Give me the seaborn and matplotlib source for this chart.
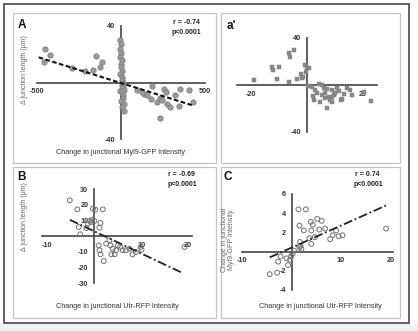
import matplotlib
matplotlib.use("Agg")
import matplotlib.pyplot as plt
import seaborn as sns
import numpy as np
import pandas as pd
from matplotlib.patches import Rectangle

sns.set_style("white")
plt.rcParams['font.family'] = ['Liberation Sans', 'DejaVu Sans']
plt.rcParams['axes.unicode_minus'] = False

# ---------------- data ----------------
# Panel A: change in junctional Myl9-GFP intensity vs delta junction length
A_x = [-451, -422, -461, -294, -216, -167, -147, -114, -127,
       -5, 2, -3, 0, -4, 3, -2, 1, 5, -6, 8, 4, 10, 12, 6, 9, 3, 15, -8, 7, 11, 14, 2, 18, 5, 20,
       98, 137, 186, 176, 216, 235, 255, 265, 245, 275, 294, 323, 343, 353, 402, 431, 235, 127, 157]
A_y = [23.7, 19.5, 14.7, 10.0, 8.3, 8.8, 18.8, 14.7, 10.7,
       30, 27, 24, 21, 18, 16, 13, 11, 8, 6, 4, 2, 0, -1, -2, -3, -4, -5, -6, -7, -9, -11, -13, -15, -17, -20,
       -5.5, -8.3, -2.4, -12.0, -13.8, -11.0, -4.3, -6.6, -12.6, -15.0, -17.0, -9.0, -16.9, -4.3, -5.5, -13.8, -25.0, -6.6, -9.0]
A_fit = {"slope": -0.0371, "intercept": -0.38, "x_range": [-490, 430]}
A_r, A_p = "r = -0.74", "p<0.0001"

# Panel a'
a2_x = [-19, -12.5, -12.3, -10.1, -10.7, -6.5, -6.5, -6.2, -4.5, -3.6, -2.0, -1.8, -1.5, -0.6, 0.0, 0.8, -0.2, 0.4,
        1.8, 3.6, 2.4, 4.2, 5.4, 6.0, 6.5, 5.4, 4.8, 7.1, 7.7, 8.3, 8.9, 9.5, 10.1, 8.9, 10.7, 13.1, 12.5, 14.3,
        15.5, 16.0, 20.2, 23.0, 6.5, 3.0, 11.5, 9.0, 7.0, 12.0, 2.0]
a2_y = [4.3, 15.6, 12.8, 15.0, 5.1, 2.3, 27.0, 23.6, 29.8, 5.1, 9.0, 5.7, 7.1, 17.0, 14.8, 14.8, 11.4, -0.6,
        -1.4, -7.1, -12.8, 0.6, 0.0, -2.8, -7.1, -8.5, -14.2, -19.9, -10.0, -12.8, -4.3, -8.5, -7.1, -14.2, -2.3, -8.0, -12.0, -2.3,
        -4.3, -8.5, -5.7, -13.6, -11.4, -4.3, -5.0, -10.5, -3.5, -13.0, -9.0]

# Panel B: change in junctional Utr-RFP intensity vs delta junction length
B_x = [-5.1, -3.5, -3.2, -2.9, -1.6, -1.3, -0.9, -0.6, -0.2, 0.3, -0.4, 0.1, 1.9, 1.4, 1.2,
       1.0, 1.2, 1.4, 2.1, 2.6, 3.3, 3.5, 4.0, 3.7, 4.4, 4.7, 5.1, 5.6, 6.1, 6.8, 7.5, 8.2, 8.9, 9.9, 10.1, 19.2]
B_y = [22.8, 17.0, 5.7, 1.1, 5.1, 7.9, 9.6, 8.9, 17.4, 16.8, 10.4, 9.6, 17.0, 8.3, 5.3,
       -6.0, -9.1, -11.7, -16.0, -4.9, -2.8, -6.0, -8.1, -11.7, -11.7, -9.1, -6.0, -7.0, -9.1, -9.1, -8.1, -11.7, -10.2, -7.0, -8.7, -7.0]
B_fit = {"slope": -1.42, "intercept": 3.1, "x_range": [-5.1, 18.8]}
B_r, B_p = "r = -0.69", "p<0.0001"

# Panel C: change in junctional Utr-RFP vs change in junctional Myl9-GFP
C_x = [-4.4, -2.9, -2.7, -2.2, -0.7, -0.3, -0.1, 0.2, 1.4, 2.9, 1.6, 2.5, 1.7, 1.6, 1.8, 2.0,
       3.9, 4.3, 4.0, 3.6, 4.0, 4.7, 5.2, 6.1, 5.6, 6.8, 7.8, 8.3, 9.0, 9.5, 10.3, 19.1, -1.0, 0.5]
C_y = [-2.35, -2.2, -1.05, -0.5, -1.4, -0.85, -0.5, -0.25, 4.4, 4.4, 2.7, 2.2, 1.0, 0.45, 0.6, 0.3,
       3.1, 2.8, 2.2, 1.4, 0.8, 1.5, 3.4, 3.2, 2.3, 2.4, 1.3, 1.7, 2.2, 1.6, 1.7, 2.4, -0.7, 0.1]
C_fit = {"slope": 0.23, "intercept": 0.41, "x_range": [-4.4, 19.3]}
C_r, C_p = "r = 0.74", "p<0.0001"

# ---------------- figure ----------------
W, H = 418, 331
fig = plt.figure(figsize=(W / 100, H / 100), dpi=100)
fig.patch.set_facecolor("white")


def fx(x):
    return x / W


def fy(y):
    return 1 - y / H


def rect(x0, y0, x1, y1, **kw):
    fig.patches.append(Rectangle((fx(x0), fy(y1)), (x1 - x0) / W, (y1 - y0) / H,
                                 transform=fig.transFigure, **kw))


# light strip at bottom, outer frame and panel boxes
rect(0, 324, W, H, facecolor="#f1f1f1", edgecolor="none", zorder=0)
rect(4, 4, 409, 323, fill=False, edgecolor="#555555", linewidth=1.3, zorder=1)
for (x0, y0, x1, y1) in [(13, 13, 216, 163), (221, 13, 400, 163), (13, 167, 216, 318), (221, 167, 400, 318)]:
    rect(x0, y0, x1, y1, fill=False, edgecolor="#c4c4c4", linewidth=0.9, zorder=1)


def add_ax(x0, x1, y0, y1):
    ax = fig.add_axes([fx(x0), fy(y1), (x1 - x0) / W, (y1 - y0) / H])
    ax.patch.set_alpha(0)
    for s in ["top", "right"]:
        ax.spines[s].set_visible(False)
    for s in ["left", "bottom"]:
        ax.spines[s].set_position("zero")
        ax.spines[s].set_color("#444444")
        ax.spines[s].set_linewidth(1.2)
    ax.tick_params(direction="out", length=2.5, width=1.0, color="#444444",
                   labelsize=5.2, labelcolor="#333333", pad=1.5)
    return ax


def fit_line(ax, fit, **kw):
    xs = np.array(fit["x_range"], dtype=float)
    ys = fit["slope"] * xs + fit["intercept"]
    sns.lineplot(x=xs, y=ys, ax=ax, legend=False, **kw)


def bold_ticks(ax):
    for lab in ax.get_xticklabels() + ax.get_yticklabels():
        lab.set_fontweight("bold")


# Panel A
axA = add_ax(37, 205, 26, 139)
sns.scatterplot(x=A_x, y=A_y, ax=axA, s=15, color="#9a9a9a", edgecolor="#7a7a7a", linewidth=0.5, legend=False, zorder=3)
fit_line(axA, A_fit, color="#111111", linewidth=1.5, linestyle=(0, (2.2, 1.2)), zorder=4)
axA.set_xlim(-500, 500); axA.set_ylim(-40, 40)
axA.set_xticks([-500, 500]); axA.set_yticks([-40, 40])
bold_ticks(axA)

# Panel a'
axa = add_ax(237, 377, 38, 132)
sns.scatterplot(x=a2_x, y=a2_y, ax=axa, s=7, marker="s", color="#8a8a8a", edgecolor="#7a7a7a", linewidth=0.3, legend=False, zorder=3)
axa.set_xlim(-25, 25); axa.set_ylim(-40, 40)
axa.set_xticks([-20, 20]); axa.set_yticks([-40, 40])
bold_ticks(axa)

# Panel B
axB = add_ax(42, 192, 189, 283)
sns.scatterplot(x=B_x, y=B_y, ax=axB, s=12, facecolor="none", edgecolor="#707070", linewidth=0.7, legend=False, zorder=3)
fit_line(axB, B_fit, color="#222222", linewidth=1.3, linestyle=(0, (5, 1.5, 1, 1.5)), zorder=4)
axB.set_xlim(-11, 20.8); axB.set_ylim(-30, 30)
axB.set_xticks([-10, 10, 20]); axB.set_yticks([-30, -20, -10, 10, 20, 30])
bold_ticks(axB)

# Panel C
axC = add_ax(242, 393, 194, 290)
sns.scatterplot(x=C_x, y=C_y, ax=axC, s=12, facecolor="none", edgecolor="#707070", linewidth=0.7, legend=False, zorder=3)
fit_line(axC, C_fit, color="#222222", linewidth=1.3, linestyle=(0, (5, 1.5, 1, 1.5)), zorder=4)
axC.set_xlim(-10, 20.5); axC.set_ylim(-4, 6)
axC.set_xticks([-10, 10, 20]); axC.set_yticks([-4, -2, 2, 4, 6])
bold_ticks(axC)

for ax in [axA, axa, axB, axC]:
    for c in ax.collections:
        c.set_clip_on(False)

# ---------------- texts ----------------
lab_kw = dict(fontsize=8.5, fontweight="bold", color="#111111", ha="center", va="center")
fig.text(fx(22), fy(25), "A", **lab_kw)
fig.text(fx(231), fy(26), "a'", **lab_kw)
fig.text(fx(21), fy(177), "B", **lab_kw)
fig.text(fx(228), fy(177), "C", **lab_kw)

rp_kw = dict(fontsize=5.0, fontweight="bold", color="#222222", ha="left", va="center")
fig.text(fx(173), fy(23), A_r, **rp_kw)
fig.text(fx(172), fy(33), A_p, **rp_kw)
fig.text(fx(168), fy(175), B_r, **rp_kw)
fig.text(fx(168), fy(185), B_p, **rp_kw)
fig.text(fx(355), fy(175), C_r, **rp_kw)
fig.text(fx(354), fy(184), C_p, **rp_kw)

xl_kw = dict(fontsize=5.2, color="#333333", ha="center", va="center")
fig.text(fx(120), fy(153), "Change in junctional Myl9-GFP Intensity", **xl_kw)
fig.text(fx(117), fy(307), "Change in junctional Utr-RFP Intensity", **xl_kw)
fig.text(fx(320), fy(307), "Change in junctional Utr-RFP Intensity", **xl_kw)

yl_kw = dict(fontsize=5.0, color="#666666", ha="center", va="center", rotation=90)
fig.text(fx(25), fy(70), "Δ junction length (μm)", **yl_kw)
fig.text(fx(25), fy(217), "Δ junction length (μm)", **yl_kw)
fig.text(fx(228), fy(240), "Change in junctional\nMyl9-GFP Intensity", linespacing=1.0, **yl_kw)

fig.savefig("out.png", dpi=100)
